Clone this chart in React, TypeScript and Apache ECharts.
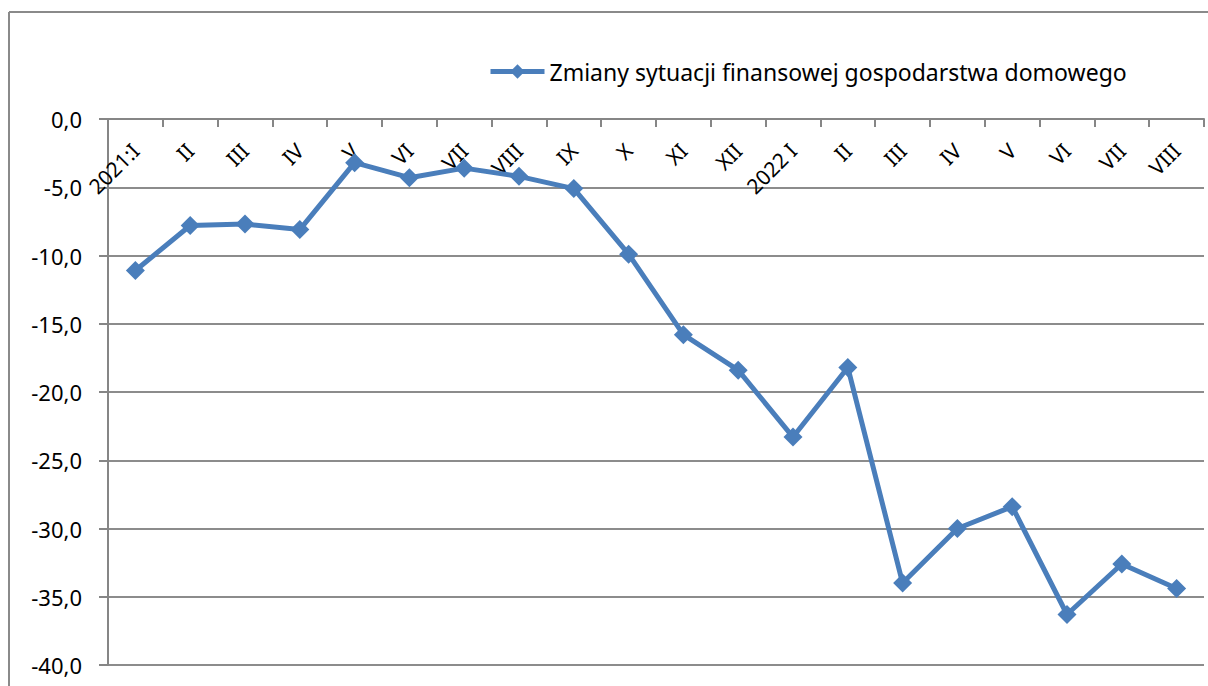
import React, { useEffect, useRef } from "react";
import * as echarts from "echarts";

const categories = ["2021:I", "II", "III", "IV", "V", "VI", "VII", "VIII", "IX", "X", "XI", "XII", "2022 I", "II", "III", "IV", "V", "VI", "VII", "VIII"];
const seriesName = "Zmiany sytuacji finansowej gospodarstwa domowego";
const values = [-11.1, -7.8, -7.7, -8.1, -3.2, -4.3, -3.6, -4.2, -5.1, -9.9, -15.8, -18.4, -23.3, -18.2, -34.0, -30.0, -28.4, -36.3, -32.6, -34.4];
const yMin = -40;
const yMax = 0;
const yInterval = 5;

const FONT = "Noto Sans";

export default function App() {
  const ref = useRef<HTMLDivElement>(null);
  useEffect(() => {
    document.body.style.margin = "0";
    const chart = echarts.init(ref.current!, null, { renderer: "svg" });
    chart.setOption({
      animation: false,
      backgroundColor: "#ffffff",
      textStyle: { fontFamily: FONT },
      graphic: [
        { type: "line", shape: { x1: 9, y1: 12, x2: 9, y2: 700 }, style: { stroke: "#8a8a8a", lineWidth: 2 } },
        { type: "line", shape: { x1: 9, y1: 12, x2: 1210, y2: 12 }, style: { stroke: "#8a8a8a", lineWidth: 2 } },
      ],
      legend: {
        left: 483,
        top: 55,
        itemWidth: 54,
        itemHeight: 18,
        itemGap: 10,
        lineStyle: { width: 5, color: "#4a7ebb" },
        textStyle: { fontFamily: FONT, fontSize: 23, color: "#000" },
        data: [seriesName],
      },
      grid: { left: 108, top: 119, right: 4, bottom: 21, containLabel: false },
      xAxis: {
        type: "category",
        data: categories,
        boundaryGap: true,
        position: "top",
        axisLine: { onZero: false, lineStyle: { color: "#868686", width: 2 } },
        axisTick: { show: true, inside: true, length: 8, interval: 0, lineStyle: { color: "#868686", width: 2 } },
        axisLabel: { inside: true, interval: 0, rotate: -45, margin: 28, fontFamily: FONT, fontSize: 21, color: "#000" },
        splitLine: { show: false },
      },
      yAxis: {
        type: "value",
        min: yMin,
        max: yMax,
        interval: yInterval,
        axisLine: { show: true, lineStyle: { color: "#868686", width: 2 } },
        axisTick: { show: true, length: 9, lineStyle: { color: "#868686", width: 2 } },
        axisLabel: {
          margin: 26,
          fontFamily: FONT,
          fontSize: 22,
          color: "#000",
          formatter: (v: number) => v.toFixed(1).replace(".", ","),
        },
        splitLine: { show: true, lineStyle: { color: "#8c8c8c", width: 2 } },
      },
      series: [
        {
          name: seriesName,
          type: "line",
          data: values,
          symbol: "diamond",
          symbolSize: 19,
          itemStyle: { color: "#4a7ebb" },
          lineStyle: { color: "#4a7ebb", width: 5 },
        },
      ],
    });
    return () => chart.dispose();
  }, []);
  return <div ref={ref} style={{ width: 1208, height: 686 }} />;
}
